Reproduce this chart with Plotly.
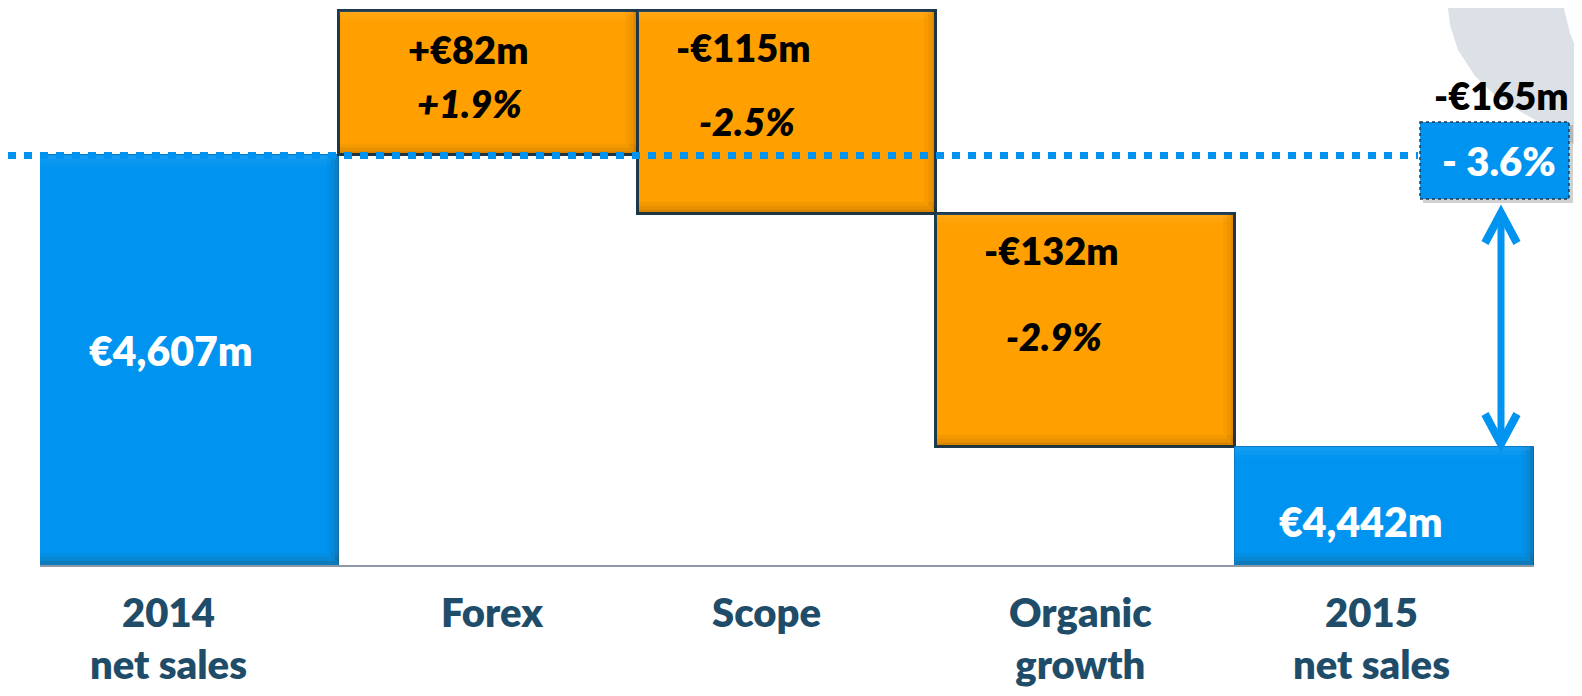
import plotly.graph_objects as go

# ---------------- data ----------------
categories = ["2014<br>net sales", "Forex", "Scope", "Organic<br>growth", "2015<br>net sales"]
measures = ["absolute", "relative", "relative", "relative", "total"]
net_sales_2014 = 4607
bridge_changes = [82, -115, -132]          # Forex, Scope, Organic growth (EUR m)
bridge_pct = ["+1.9%", "-2.5%", "-2.9%"]
net_sales_2015 = net_sales_2014 + sum(bridge_changes)   # 4442
total_change = net_sales_2015 - net_sales_2014          # -165
total_pct = total_change / net_sales_2014 * 100

# ---------------- style ----------------
BLUE = "#0094F0"
ORANGE = "#FFA000"
NAVY = "#1B3A4E"
LABEL = "#1F4D69"
FONT = "Lato"
WEIGHT = 800
OFF = 8                      # page body margin
W, H = 1582 - OFF, 696 - OFF
L, R, T, B = 32, 48, 0, 131
PW, PH = W - L - R, H - T - B
Y_RANGE = [4375, 4690.5]     # broken axis (the slide does not start at zero)
PX_PER_Y = PH / (Y_RANGE[1] - Y_RANGE[0])
PX_PER_CAT = PW / len(categories)


def xp(px):
    return (px - OFF - L) / PW


def yp(py):
    return 1 - (py - OFF - T) / PH


fig = go.Figure()
fig.add_trace(go.Waterfall(
    x=categories,
    y=[net_sales_2014] + bridge_changes + [None],
    measure=measures,
    increasing=dict(marker=dict(color=ORANGE, line=dict(color=NAVY, width=3))),
    decreasing=dict(marker=dict(color=ORANGE, line=dict(color=NAVY, width=3))),
    totals=dict(marker=dict(color=BLUE, line=dict(color="#0A78C2", width=1))),
    connector=dict(visible=False),
    textinfo="none",
    hoverinfo="skip",
))

shapes = []
# grey decorative ring segment (slide background)
ring = [(1447, 0), (1562, 0), (1570, 33), (1582, 63), (1582, 150),
        (1550, 128), (1530, 117), (1500, 100), (1475, 76), (1458, 50), (1450, 25)]
path = "M " + " L ".join(f"{xp(x):.5f},{yp(y):.5f}" for x, y in ring) + " Z"
shapes.append(dict(type="path", xref="paper", yref="paper", path=path,
                   fillcolor="#DCE0E7", line=dict(width=0), layer="below"))

# bevel shading on every bar (derived from the bar extents)
levels = [net_sales_2014]
for c in bridge_changes:
    levels.append(levels[-1] + c)
bar_lo = [Y_RANGE[0]] + [min(a, b) for a, b in zip(levels[:-1], levels[1:])] + [Y_RANGE[0]]
bar_hi = [net_sales_2014] + [max(a, b) for a, b in zip(levels[:-1], levels[1:])] + [net_sales_2015]
for i, (lo, hi) in enumerate(zip(bar_lo, bar_hi)):
    x0, x1 = i - 0.5, i + 0.5
    for k, op in enumerate([0.22, 0.12, 0.05]):
        dy = 4 / PX_PER_Y
        dx = 4 / PX_PER_CAT
        # bottom edge
        shapes.append(dict(type="rect", xref="x", yref="y",
                           x0=x0, x1=x1, y0=lo + k * dy, y1=lo + (k + 1) * dy,
                           fillcolor=f"rgba(60,30,0,{op})", line=dict(width=0), layer="above"))
        # right edge
        shapes.append(dict(type="rect", xref="x", yref="y",
                           x0=x1 - (k + 1) * dx, x1=x1 - k * dx, y0=lo + (k + 1) * dy, y1=hi,
                           fillcolor=f"rgba(60,30,0,{op * 0.8})", line=dict(width=0), layer="above"))
        # top highlight
        shapes.append(dict(type="rect", xref="x", yref="y",
                           x0=x0, x1=x1 - (k + 1) * dx, y0=hi - (k + 1) * dy, y1=hi - k * dy,
                           fillcolor=f"rgba(255,255,255,{op * 0.35})", line=dict(width=0), layer="above"))

# dotted reference line at 2014 level
shapes.append(dict(type="line", xref="paper", yref="y",
                   x0=xp(8), x1=xp(1418), y0=net_sales_2014, y1=net_sales_2014,
                   line=dict(color=BLUE, width=7, dash="8px,8px"), layer="above"))

# total change box (shadow + box)
shapes.append(dict(type="rect", xref="paper", yref="paper",
                   x0=xp(1423), x1=xp(1573), y0=yp(125), y1=yp(203),
                   fillcolor="rgba(0,0,0,0.18)", line=dict(width=0), layer="above"))
shapes.append(dict(type="rect", xref="paper", yref="paper",
                   x0=xp(1420), x1=xp(1569), y0=yp(122), y1=yp(199),
                   fillcolor=BLUE, line=dict(color="#243A4C", width=1.5, dash="dot"),
                   layer="above"))

# double arrow
AX = 1501
shapes.append(dict(type="line", xref="paper", yref="paper",
                   x0=xp(AX), x1=xp(AX), y0=yp(216), y1=yp(441),
                   line=dict(color=BLUE, width=7), layer="above"))
for tip, d in [(213, 1), (444, -1)]:
    pts = [(AX - 16, tip + d * 30), (AX, tip), (AX + 16, tip + d * 30)]
    p = "M " + " L ".join(f"{xp(x):.5f},{yp(y):.5f}" for x, y in pts)
    shapes.append(dict(type="path", xref="paper", yref="paper", path=p,
                       line=dict(color=BLUE, width=8), layer="above"))

annotations = []


def txt(text, x, y, size, color, anchor="middle", italic=False):
    annotations.append(dict(text=text, x=xp(x), y=yp(y), xref="paper", yref="paper",
                            showarrow=False, xanchor="center", yanchor=anchor,
                            font=dict(family=FONT, size=size, color=color, weight=WEIGHT,
                                      style="italic" if italic else "normal")))


# category labels (below axis)
label_x = [168, 492, 766, 1080, 1371]
for cat, x in zip(categories, label_x):
    txt(cat, x, 586, 40, LABEL, anchor="top")

# values inside bars
txt(f"€{net_sales_2014:,}m", 171, 350, 41, "white")
txt(f"€{net_sales_2015:,}m", 1361, 521, 41, "white")
val_pos = [(468, 49), (743, 47), (1051, 250)]
pct_pos = [(469, 103), (747, 121), (1054, 336)]
for v, pc, (vx, vy), (px_, py_) in zip(bridge_changes, bridge_pct, val_pos, pct_pos):
    sign = "+" if v > 0 else "-"
    txt(f"{sign}€{abs(v)}m", vx, vy, 38, "black")
    txt(pc, px_, py_, 38, "black", italic=True)

# total change
txt(f"-€{abs(total_change)}m", 1501, 95, 38, "black")
txt(f"- {abs(total_pct):.1f}%", 1499, 161, 40, "white")

fig.update_layout(
    width=W, height=H,
    margin=dict(l=L, r=R, t=T, b=B, pad=0),
    paper_bgcolor="white", plot_bgcolor="rgba(0,0,0,0)",
    waterfallgap=0,
    showlegend=False,
    shapes=shapes,
    annotations=annotations,
    xaxis=dict(type="category", showticklabels=False, showgrid=False, zeroline=False,
               showline=True, linecolor="#8D99A6", linewidth=2, ticks=""),
    yaxis=dict(range=Y_RANGE, visible=False, showgrid=False, zeroline=False),
)

fig.write_html("out.html")
